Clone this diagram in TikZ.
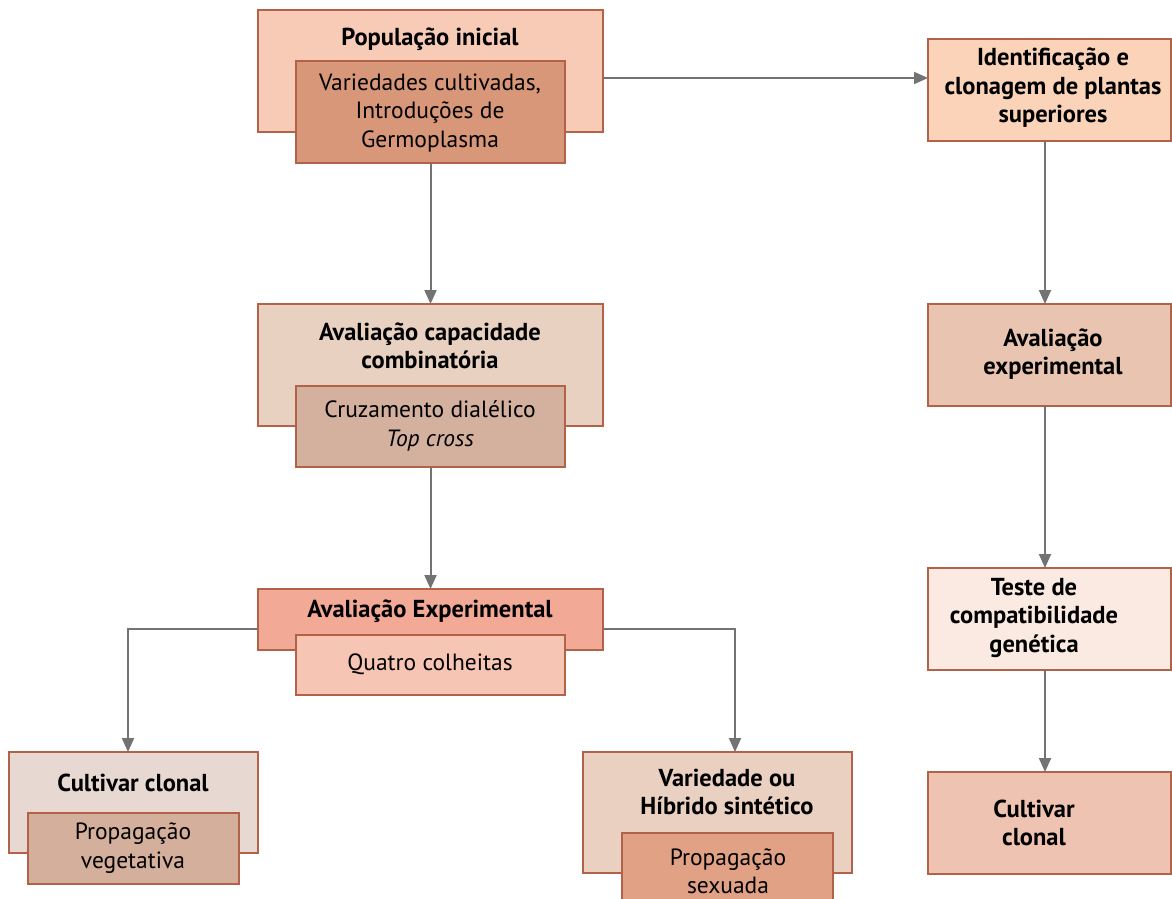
\documentclass[tikz,border=0pt]{standalone}
\usepackage{fontspec}
\setmainfont{PT Sans}
\usetikzlibrary{arrows.meta}
\definecolor{edge}{HTML}{B3624A}
\definecolor{link}{HTML}{737373}
\definecolor{popO}{HTML}{F8CBB6}
\definecolor{popI}{HTML}{D99779}
\definecolor{identF}{HTML}{FAD3B9}
\definecolor{capO}{HTML}{E8D1C1}
\definecolor{capI}{HTML}{D4B09E}
\definecolor{aveR}{HTML}{E8C4B1}
\definecolor{expO}{HTML}{F2A996}
\definecolor{expI}{HTML}{F7C5B3}
\definecolor{cloO}{HTML}{E8D8D2}
\definecolor{cloI}{HTML}{D4AF9B}
\definecolor{varO}{HTML}{E9D0C0}
\definecolor{varI}{HTML}{E0A185}
\definecolor{testeF}{HTML}{FAEAE1}
\definecolor{cloR}{HTML}{EFC3B1}
\tikzset{
  box/.style={draw=edge, line width=2pt, anchor=north west, inner sep=0pt, outer sep=0pt},
  txt/.style={align=center, inner sep=0pt, font=\fontsize{23.5}{28.5}\selectfont},
  ttl/.style={txt, font=\fontsize{24.5}{28.5}\selectfont\bfseries},
  flow/.style={draw=link, line width=2pt, -{Triangle[length=14pt,width=12pt]}}
}
\begin{document}
\begin{tikzpicture}[x=1pt,y=-1pt]
\useasboundingbox (0,0) rectangle (1172,899);
\clip (0,0) rectangle (1172,899);

% left column: initial population
\node[box, fill=popO, minimum width=345, minimum height=122] (popO) at (258,10) {};
\node[ttl] (popT) at (430,39) {População inicial};
\node[box, fill=popI, minimum width=269, minimum height=102] (popI) at (296,61) {};
\node[txt] (popX) at (430,113) {Variedades cultivadas,\\Introduções de\\Germoplasma};

% combining ability
\node[box, fill=capO, minimum width=345, minimum height=122] (capO) at (258,304) {};
\node[ttl] (capT) at (430,346) {Avaliação capacidade\\combinatória};
\node[box, fill=capI, minimum width=269, minimum height=81] (capI) at (296,386) {};
\node[txt] (capX) at (430,426) {Cruzamento dialélico\\\itshape Top cross};

% experimental evaluation
\node[box, fill=expO, minimum width=345, minimum height=61] (expO) at (258,589) {};
\node[ttl] (expT) at (430,611) {Avaliação Experimental};
\node[box, fill=expI, minimum width=269, minimum height=60] (expI) at (296,635) {};
\node[txt] (expX) at (430,664) {Quatro colheitas};

% clonal cultivar (left)
\node[box, fill=cloO, minimum width=249, minimum height=101] (cloO) at (9,752) {};
\node[ttl] (cloT) at (133,783) {Cultivar clonal};
\node[box, fill=cloI, minimum width=211, minimum height=71] (cloI) at (28,813) {};
\node[txt] (cloX) at (133,848) {Propagação\\vegetativa};

% variety or synthetic hybrid
\node[box, fill=varO, minimum width=269, minimum height=121] (varO) at (583,752) {};
\node[ttl] (varT) at (727,792) {Variedade ou\\Híbrido sintético};
\node[box, fill=varI, minimum width=211, minimum height=80] (varI) at (622,833) {};
\node[txt] (varX) at (728,871) {Propagação\\sexuada};

% right column
\node[box, fill=identF, minimum width=243, minimum height=102] (ident) at (928,39) {};
\node[ttl] at (1053,88) {Identificação e\\clonagem de plantas\\superiores};
\node[box, fill=aveR, minimum width=243, minimum height=102] (aveR) at (928,304) {};
\node[ttl] at (1053,354) {Avaliação\\experimental};
\node[box, fill=testeF, minimum width=243, minimum height=102] (teste) at (928,568) {};
\node[ttl] at (1034,618) {Teste de\\compatibilidade\\genética};
\node[box, fill=cloR, minimum width=243, minimum height=102] (cloR) at (928,772) {};
\node[ttl] at (1034,823) {Cultivar\\clonal};

% connectors
\draw[flow] (popI.south) -- (capO.north);
\draw[flow] (popO.east |- 0,78) -- (ident.west |- 0,78);
\draw[flow] (capI.south) -- (expO.north);
\draw[flow] (expO.west |- 0,629) -| (cloO.north -| 128,0);
\draw[flow] (expO.east |- 0,629) -| (varO.north -| 735,0);
\draw[flow] (ident.south -| 1045,0) -- (aveR.north -| 1045,0);
\draw[flow] (aveR.south -| 1045,0) -- (teste.north -| 1045,0);
\draw[flow] (teste.south -| 1045,0) -- (cloR.north -| 1045,0);
\end{tikzpicture}
\end{document}
